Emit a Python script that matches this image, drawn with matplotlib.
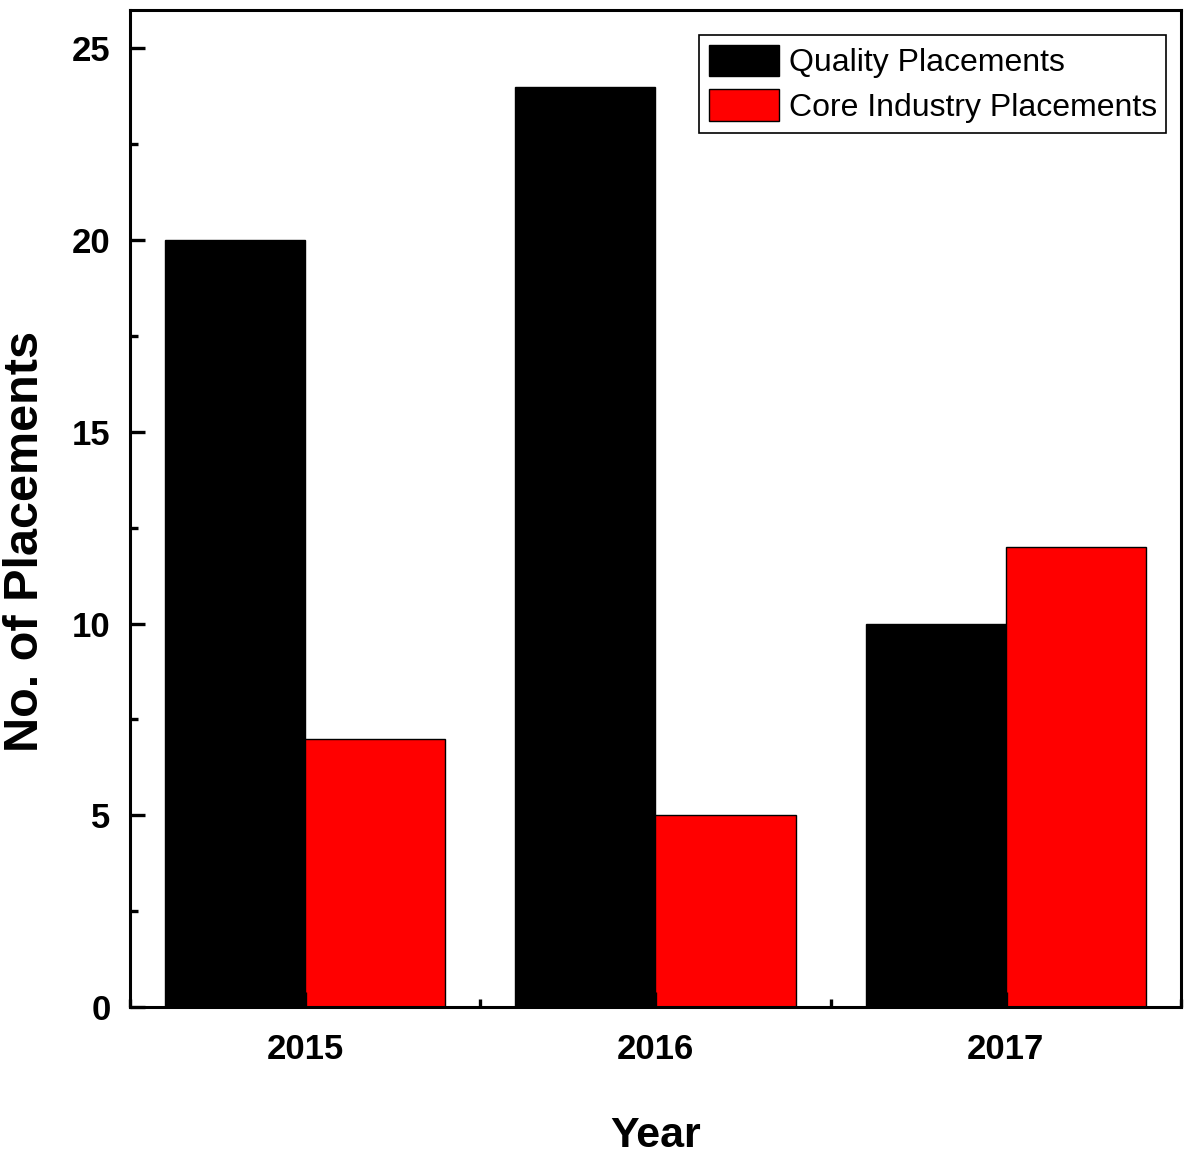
import numpy as np
import matplotlib.pyplot as plt
from matplotlib.ticker import MultipleLocator

years = [2015, 2016, 2017]
quality = [20, 24, 10]
core = [7, 5, 12]
labels = ["Quality Placements", "Core Industry Placements"]

plt.rcParams['font.family'] = ['Liberation Sans', 'DejaVu Sans']

fig = plt.figure(figsize=(11.88, 11.55), dpi=100)
ax = fig.add_axes([0.1094, 0.1281, 0.8847, 0.8632])

x = np.array(years)
w = 0.4
ax.bar(x - w / 2, quality, w, color="black", edgecolor="black", linewidth=1, label=labels[0])
ax.bar(x + w / 2, core, w, color="#ff0000", edgecolor="black", linewidth=1, label=labels[1])

ax.set_xlim(2014.5, 2017.5)
ax.set_ylim(0, 26)
ax.set_xticks(years)
ax.xaxis.set_minor_locator(MultipleLocator(0.5))
ax.yaxis.set_major_locator(MultipleLocator(5))
ax.yaxis.set_minor_locator(MultipleLocator(2.5))

for s in ax.spines.values():
    s.set_linewidth(2.2)
ax.tick_params(which="major", direction="in", length=11, width=2.4, labelsize=25, pad=14)
ax.tick_params(axis="x", which="major", pad=19)
ax.tick_params(which="minor", direction="in", length=5.5, width=2.4)
for t in ax.get_xticklabels() + ax.get_yticklabels():
    t.set_fontweight("bold")

ax.set_xlabel("Year", fontsize=31, fontweight="bold", labelpad=36)
ax.set_ylabel("No. of Placements", fontsize=35, fontweight="bold")
ax.yaxis.set_label_coords(-0.078, 0.467)

leg = ax.legend(loc="upper right", fontsize=23, frameon=True, fancybox=False,
                edgecolor="black", framealpha=1, borderpad=0.3, labelspacing=0.35,
                handlelength=2.2, handleheight=1.15, handletextpad=0.3,
                borderaxespad=0.0, bbox_to_anchor=(0.986, 0.975))
leg.get_frame().set_linewidth(1.2)

fig.savefig("out.png", dpi=100)
